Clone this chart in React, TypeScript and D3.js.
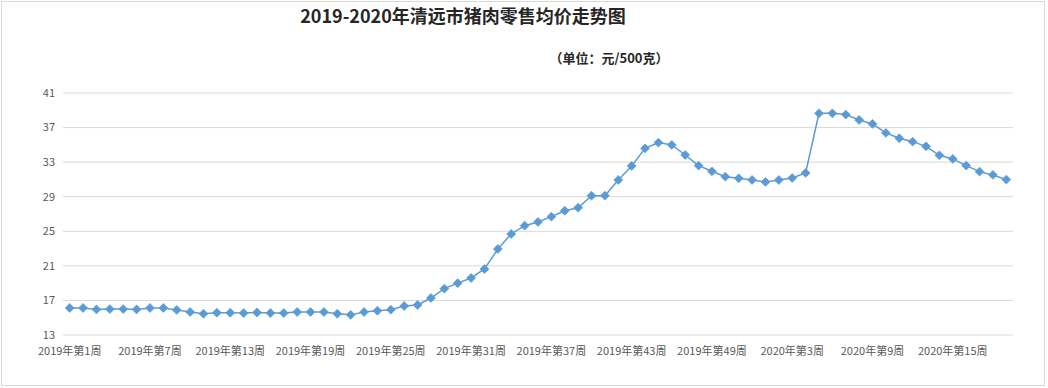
import React from 'react';
import * as d3 from 'd3';

const weeks2019 = d3.range(1, 53).map(n => `2019年第${n}周`);
const weeks2020 = d3.range(1, 20).map(n => `2020年第${n}周`);
const categories = [...weeks2019, ...weeks2020];

const prices2019 = [
  16.13, 16.13, 15.96, 16.0, 16.0, 15.96, 16.13, 16.13, 15.9, 15.66,
  15.46, 15.58, 15.58, 15.54, 15.6, 15.54, 15.54, 15.66, 15.66, 15.66,
  15.46, 15.33, 15.66, 15.81, 15.93, 16.36, 16.47, 17.28, 18.36, 19.0,
  19.6, 20.64, 22.95, 24.69, 25.65, 26.08, 26.69, 27.38, 27.73, 29.12,
  29.12, 30.94, 32.56, 34.6, 35.26, 34.99, 33.83, 32.6, 31.94, 31.32,
  31.13, 30.94,
];
const prices2020 = [
  30.71, 30.94, 31.17, 31.75, 38.65, 38.65, 38.5, 37.88, 37.42, 36.38,
  35.76, 35.37, 34.83, 33.79, 33.37, 32.6, 31.9, 31.52, 30.98,
];
const prices = [...prices2019, ...prices2020];

const yTicks = [13, 17, 21, 25, 29, 33, 37, 41];

const W = 1048;
const H = 388;
const font = '"Noto Sans CJK SC", "Microsoft YaHei", sans-serif';

export default function App() {
  const left = 63, right = 1013, top = 93, bottom = 335;

  const x = d3.scaleBand<string>().domain(categories).range([left, right]);
  const y = d3.scaleLinear().domain([13, 41]).range([bottom, top]);
  const cx = (c: string) => (x(c) as number) + x.bandwidth() / 2;

  const line = d3.line<number>()
    .x((_, i) => cx(categories[i]))
    .y(d => y(d));

  const diamond = d3.symbol().type(d3.symbolDiamond2).size(50)() as string;

  return (
    <svg width={W} height={H} style={{ position: 'absolute', left: 0, top: 0, background: '#fff' }}>
      <rect x={1.5} y={1.5} width={W - 5} height={H - 4} fill="#fff" stroke="#d9d9d9" />
      <text x={463} y={23} textAnchor="middle" fontFamily={font} fontWeight="bold" fontSize={18} fill="#262626">
        2019-2020年清远市猪肉零售均价走势图
      </text>
      <text x={609} y={63} textAnchor="middle" fontFamily={font} fontWeight="bold" fontSize={13} fill="#262626">
        （单位：元/500克）
      </text>

      {yTicks.map(t => (
        <g key={t}>
          <line x1={left} x2={right} y1={y(t)} y2={y(t)} stroke="#d9d9d9" strokeWidth={1} />
          <text x={55} y={y(t)} dy="0.35em" textAnchor="end" fontFamily={font} fontSize={11} fill="#595959">
            {t}
          </text>
        </g>
      ))}

      {categories.map((c, i) => i % 6 === 0 ? (
        <text key={c} x={cx(c)} y={351} dy="0.35em" textAnchor="middle" fontFamily={font} fontSize={11} fill="#595959">
          {c}
        </text>
      ) : null)}

      <path d={line(prices) as string} fill="none" stroke="#5b9bd5" strokeWidth={1.5} />
      {prices.map((v, i) => (
        <path key={i} d={diamond} transform={`translate(${cx(categories[i])},${y(v)})`} fill="#5b9bd5" stroke="#5b9bd5" strokeWidth={0.75} />
      ))}
    </svg>
  );
}
